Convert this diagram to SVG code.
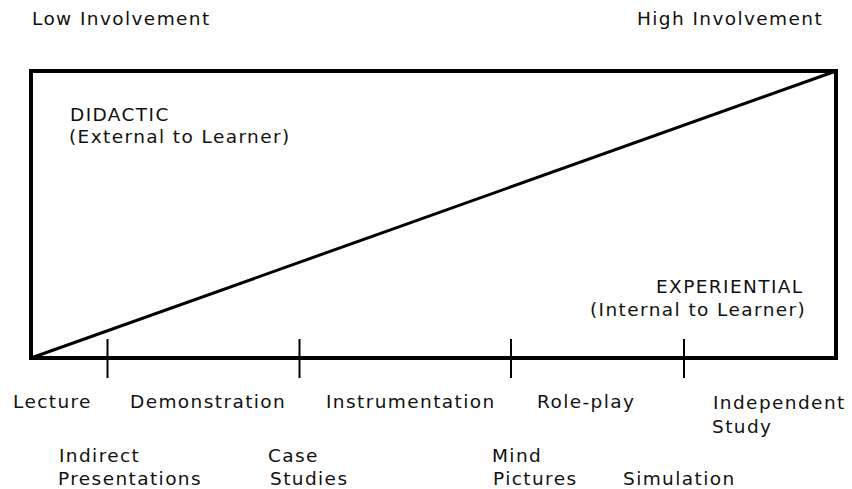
<svg xmlns="http://www.w3.org/2000/svg" width="852" height="489" viewBox="0 0 852 489">
<style>
text{font-family:"DejaVu Sans","Verdana",sans-serif;font-size:18.5px;letter-spacing:1.4px;fill:#111}
.frame{fill:none;stroke:#000;stroke-width:4}
.diag{stroke:#000;stroke-width:3;fill:none}
.tick{stroke:#000;stroke-width:2}
</style>
<rect width="852" height="489" fill="#fff"/>
<g id="frame"><rect class="frame" x="31" y="71" width="805" height="287"/></g>
<g id="connectors">
<line class="diag" x1="31" y1="358" x2="836" y2="71"/>
<line class="tick" x1="107.5" y1="339" x2="107.5" y2="378"/>
<line class="tick" x1="299.5" y1="339" x2="299.5" y2="378"/>
<line class="tick" x1="511" y1="339" x2="511" y2="378"/>
<line class="tick" x1="684" y1="339" x2="684" y2="378"/>
</g>
<g id="low"><text x="32" y="25">Low Involvement</text></g>
<g id="high"><text x="637" y="25">High Involvement</text></g>
<g id="didactic"><text x="70" y="121">DIDACTIC</text><text x="69" y="143">(External to Learner)</text></g>
<g id="experiential"><text x="656" y="293">EXPERIENTIAL</text><text x="590" y="316">(Internal to Learner)</text></g>
<g id="lecture"><text x="13" y="408">Lecture</text></g>
<g id="demonstration"><text x="130" y="408">Demonstration</text></g>
<g id="instrumentation"><text x="326" y="408">Instrumentation</text></g>
<g id="roleplay"><text x="537" y="408">Role-play</text></g>
<g id="independent"><text x="713" y="409">Independent</text><text x="712" y="433">Study</text></g>
<g id="indirect"><text x="59" y="462">Indirect</text><text x="58" y="485">Presentations</text></g>
<g id="case"><text x="268" y="462">Case</text><text x="270" y="485">Studies</text></g>
<g id="mind"><text x="492" y="462">Mind</text><text x="493" y="485">Pictures</text></g>
<g id="simulation"><text x="623" y="485">Simulation</text></g>
</svg>
